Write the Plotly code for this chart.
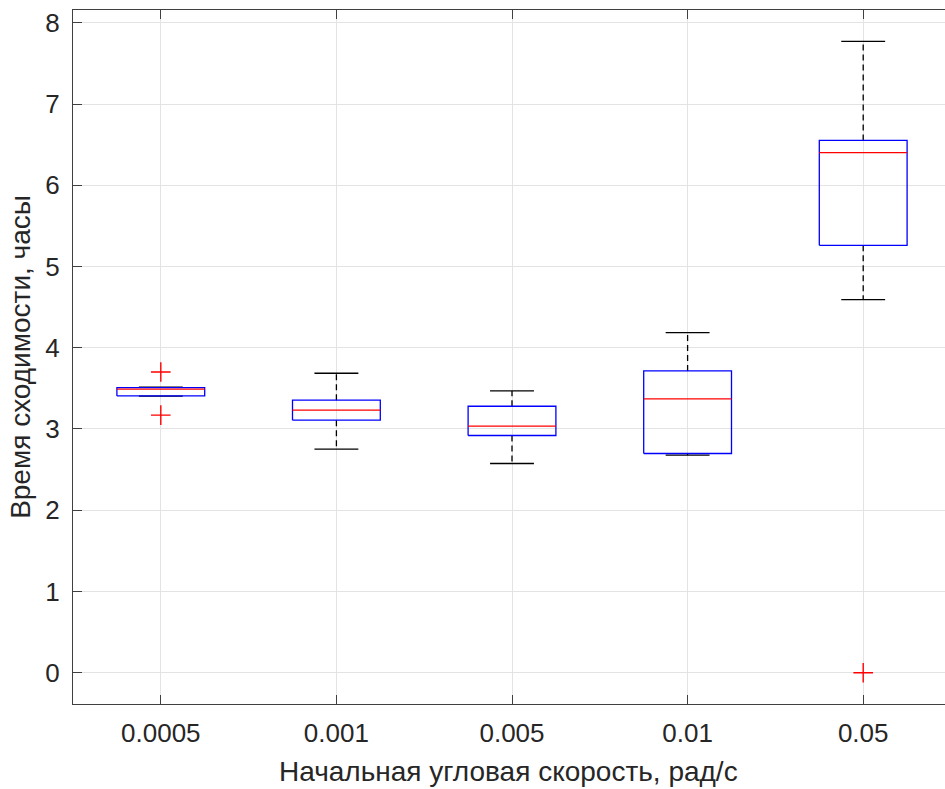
import plotly.graph_objects as go

# Convergence time statistics per initial angular velocity
categories = ["0.0005", "0.001", "0.005", "0.01", "0.05"]
positions = [1, 2, 3, 4, 5]
q1 = [3.407, 3.108, 2.920, 2.698, 5.261]
median = [3.490, 3.231, 3.034, 3.370, 6.401]
q3 = [3.510, 3.354, 3.280, 3.715, 6.552]
whisker_low = [3.405, 2.751, 2.575, 2.678, 4.593]
whisker_high = [3.515, 3.686, 3.469, 4.187, 7.770]
outlier_group = [0, 0, 4]
outlier_value = [3.702, 3.170, 0.0]
y_ticks = [0, 1, 2, 3, 4, 5, 6, 7, 8]

x_title = "Начальная угловая скорость, рад/с"
y_title = "Время сходимости, часы"

BOX_HALF = 0.25
CAP_HALF = 0.125
FONT = "Liberation Sans, Arial, Helvetica, sans-serif"
TEXT = "#262626"
AXIS = "#404040"
GRID = "#e3e3e3"
TICK_SIZE = 26
LABEL_SIZE = 28


def segments(pairs):
    xs, ys = [], []
    for (x0, y0, x1, y1) in pairs:
        xs += [x0, x1, None]
        ys += [y0, y1, None]
    return xs, ys


fig = go.Figure()

# dashed whiskers from box edges to the extremes
wx, wy = segments(
    [(p, q3[i], p, whisker_high[i]) for i, p in enumerate(positions)]
    + [(p, q1[i], p, whisker_low[i]) for i, p in enumerate(positions)]
)
fig.add_trace(go.Scatter(x=wx, y=wy, mode="lines",
                         line=dict(color="black", width=1.3, dash="6px,4px"),
                         hoverinfo="skip", showlegend=False))

# whisker caps
cx, cy = segments(
    [(p - CAP_HALF, whisker_high[i], p + CAP_HALF, whisker_high[i]) for i, p in enumerate(positions)]
    + [(p - CAP_HALF, whisker_low[i], p + CAP_HALF, whisker_low[i]) for i, p in enumerate(positions)]
)
fig.add_trace(go.Scatter(x=cx, y=cy, mode="lines",
                         line=dict(color="black", width=1.3),
                         hoverinfo="skip", showlegend=False))

# boxes (interquartile range)
bx, by = [], []
for i, p in enumerate(positions):
    bx += [p - BOX_HALF, p + BOX_HALF, p + BOX_HALF, p - BOX_HALF, p - BOX_HALF, None]
    by += [q1[i], q1[i], q3[i], q3[i], q1[i], None]
fig.add_trace(go.Scatter(x=bx, y=by, mode="lines",
                         line=dict(color="#0000ff", width=1.3),
                         hoverinfo="skip", showlegend=False))

# medians
mx, my = segments([(p - BOX_HALF, median[i], p + BOX_HALF, median[i]) for i, p in enumerate(positions)])
fig.add_trace(go.Scatter(x=mx, y=my, mode="lines",
                         line=dict(color="#ff0000", width=1.3),
                         hoverinfo="skip", showlegend=False))

# outliers
fig.add_trace(go.Scatter(x=[positions[g] for g in outlier_group], y=outlier_value,
                         mode="markers",
                         marker=dict(symbol="cross-thin", size=14,
                                     line=dict(color="#ff0000", width=1.4)),
                         hoverinfo="skip", showlegend=False))

fig.update_layout(
    width=945, height=789,
    margin=dict(l=73, r=0, t=10, b=85),
    paper_bgcolor="white", plot_bgcolor="white",
    font=dict(family=FONT, size=TICK_SIZE, color=TEXT),
    showlegend=False,
    annotations=[dict(text=x_title, xref="paper", yref="paper",
                      x=(508 - 73) / 872, y=0, yshift=-50,
                      xanchor="center", yanchor="top", showarrow=False,
                      font=dict(size=LABEL_SIZE, color=TEXT, family=FONT))],
)
fig.update_xaxes(
    range=[0.5, 0.5 + (945 - 73) / 175.6],
    tickmode="array", tickvals=positions, ticktext=categories,
    ticks="inside", ticklen=9, tickcolor=AXIS, tickwidth=1,
    showline=True, linecolor=AXIS, linewidth=1, mirror="ticks",
    showgrid=True, gridcolor=GRID, gridwidth=1,
    zeroline=False, ticklabelstandoff=6,
    tickfont=dict(size=TICK_SIZE, color=TEXT),
)
fig.update_yaxes(
    range=[-0.385, 8.157],
    tickmode="array", tickvals=y_ticks,
    ticks="inside", ticklen=9, tickcolor=AXIS, tickwidth=1,
    showline=True, linecolor=AXIS, linewidth=1,
    showgrid=True, gridcolor=GRID, gridwidth=1,
    zeroline=False, ticklabelstandoff=7,
    title=dict(text=y_title, standoff=6,
               font=dict(size=LABEL_SIZE, color=TEXT)),
    tickfont=dict(size=TICK_SIZE, color=TEXT),
)

fig.write_html("out.html")
